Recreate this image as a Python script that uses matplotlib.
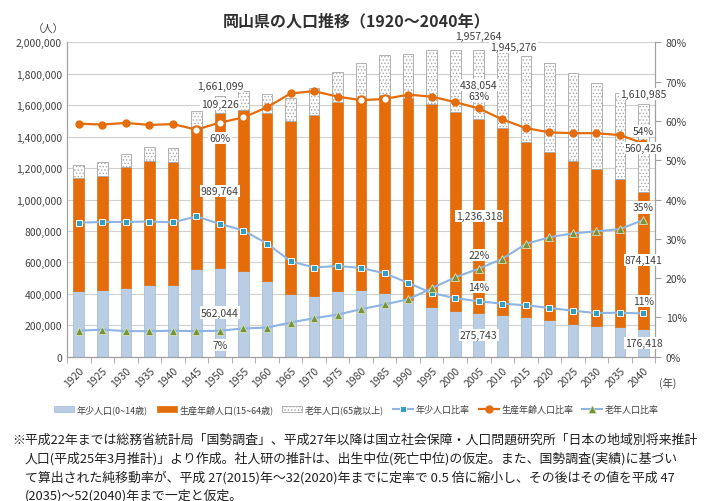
import numpy as np
import matplotlib
matplotlib.use("Agg")
import matplotlib.pyplot as plt
from matplotlib.ticker import FuncFormatter, MultipleLocator

plt.rcParams['font.family'] = ['Noto Sans CJK JP', 'DejaVu Sans']
plt.rcParams['hatch.linewidth'] = 0.6

years = [1920, 1925, 1930, 1935, 1940, 1945, 1950, 1955, 1960, 1965, 1970, 1975, 1980,
         1985, 1990, 1995, 2000, 2005, 2010, 2015, 2020, 2025, 2030, 2035, 2040]

# 人口 (人)
young = [415000, 425000, 440000, 459000, 454000, 558000, 562044, 543000, 482000, 400000,
         387000, 419000, 422000, 406000, 362000, 317000, 291000, 275743, 263000, 250000,
         231000, 211000, 193000, 187000, 176418]
working = [723000, 727000, 764000, 788000, 787000, 905000, 989764, 1026000, 1067000, 1102000,
           1152000, 1201000, 1222000, 1257000, 1284000, 1293000, 1268000, 1236318, 1190000, 1118000,
           1071000, 1036000, 1003000, 945000, 874141]
old = [80000, 86000, 83000, 86000, 88000, 102000, 109226, 121000, 124000, 143000,
       168000, 194000, 227000, 254000, 280000, 341000, 392000, 438054, 492000, 546000,
       565000, 561000, 547000, 545000, 560426]

# 比率 (%)
young_ratio = [34.1, 34.3, 34.3, 34.4, 34.2, 35.7, 33.8, 32.1, 28.8, 24.3, 22.7, 23.1, 22.6,
               21.2, 18.8, 16.2, 14.9, 14.1, 13.5, 13.1, 12.4, 11.7, 11.1, 11.2, 11.0]
working_ratio = [59.3, 59.1, 59.5, 59.0, 59.2, 57.8, 59.6, 60.9, 63.5, 67.0, 67.6, 66.2, 65.3,
                 65.6, 66.7, 66.2, 64.8, 63.2, 60.4, 58.2, 57.1, 56.9, 56.9, 56.4, 54.3]
old_ratio = [6.6, 6.9, 6.5, 6.5, 6.6, 6.5, 6.6, 7.2, 7.4, 8.7, 9.8, 10.7, 12.1,
             13.3, 14.6, 17.4, 20.2, 22.4, 24.9, 28.7, 30.4, 31.4, 31.9, 32.5, 34.8]
hollow_years = [1945, 1950, 1955, 1980, 1985]

# 2010 を先に描き、2005 を上に重ねる
totals_label = {1950: "1,661,099", 2010: "1,945,276", 2005: "1,957,264", 2040: "1,610,985"}

c_young = '#b9cde5'
c_work = '#e46c0a'
c_line = '#8eb4e3'
c_sq = '#31a0c0'
c_tri = '#77933c'

x = np.arange(len(years))
young = np.array(young)
working = np.array(working)
old = np.array(old)

fig = plt.figure(figsize=(7.13, 5.02), dpi=100)
ax = fig.add_axes([0.094, 0.2875, 0.825, 0.626])
ax2 = ax.twinx()

w = 0.45
ax.bar(x, young, w, color=c_young, edgecolor='#9fb6d4', lw=0.5, label='年少人口(0~14歳)', zorder=2)
ax.bar(x, working, w, bottom=young, color=c_work, edgecolor=c_work, lw=0.5,
       label='生産年齢人口(15~64歳)', zorder=2)
ax.bar(x, old, w, bottom=young + working, color='white', edgecolor='#a6a6a6', hatch='.....',
       lw=0.6, label='老年人口(65歳以上)', zorder=2)

ax.set_ylim(0, 2000000)
ax.set_xlim(-0.45, len(years) - 0.5)
ax.yaxis.set_major_locator(MultipleLocator(200000))
ax.yaxis.set_major_formatter(FuncFormatter(lambda v, p: f"{int(v):,}"))
ax.grid(axis='y', color='#d0d0d0', lw=0.8, zorder=0)
ax.set_axisbelow(True)
ax.set_xticks(x)
ax.set_xticklabels([str(y) for y in years], rotation=45, ha='right', rotation_mode='anchor',
                   fontsize=7.5, color='#404040')
ax.set_xticks(np.arange(-0.5, len(years), 1), minor=True)
ax.tick_params(axis='x', which='major', length=0, pad=6)
ax.tick_params(axis='x', which='minor', length=4, color='#a0a0a0')
ax.tick_params(axis='y', length=0, labelsize=7.5, labelcolor='#404040')
for a in (ax, ax2):
    a.spines['top'].set_visible(False)
    for s in ['left', 'bottom', 'right']:
        a.spines[s].set_color('#a0a0a0')

ax2.plot(x, young_ratio, color=c_line, lw=1.5, marker='s', ms=5, mfc=c_sq, mec='white',
         mew=0.7, label='年少人口比率', zorder=3)
ax2.plot(x, working_ratio, color=c_work, lw=1.6, marker='o', ms=5, mfc=c_work, mec=c_work,
         label='生産年齢人口比率', zorder=3)
hx = [years.index(y) for y in hollow_years]
ax2.plot(hx, [working_ratio[i] for i in hx], ls='none', marker='o', ms=6, mfc='white',
         mec=c_work, mew=1.5, zorder=4)
ax2.plot(x, old_ratio, color=c_line, lw=1.5, marker='^', ms=5.5, mfc=c_tri, mec='#d7e4bd',
         mew=0.6, label='老年人口比率', zorder=3)
ax2.set_ylim(0, 80)
ax2.yaxis.set_major_locator(MultipleLocator(10))
ax2.yaxis.set_major_formatter(FuncFormatter(lambda v, p: f"{int(v)}%"))
ax2.tick_params(axis='y', length=4, color='#a0a0a0', labelsize=7.5, labelcolor='#404040')

bb = dict(boxstyle='square,pad=0.1', fc='white', ec='none')
def lab(year, yval, text, dy, coords, dx=0):
    i = years.index(year)
    ax2.annotate(text, (i, yval), xycoords=coords, xytext=(dx, dy), textcoords='offset points',
                 ha='center', va='center', fontsize=7.5, color='#404040', bbox=bb, zorder=6,
                 annotation_clip=False)

for yr, t in totals_label.items():
    i = years.index(yr)
    tot = young[i] + working[i] + old[i]
    dy = {1950: 7, 2005: 10, 2010: 3, 2040: 7}[yr]
    dx = 8 if yr == 2010 else 0
    lab(yr, tot, t, dy, ax.transData, dx)
for yr in [1950, 2005, 2040]:
    i = years.index(yr)
    lab(yr, young[i] / 2, f"{young[i]:,}", 0, ax.transData)
    lab(yr, young[i] + working[i] / 2, f"{working[i]:,}", 0, ax.transData)
    lab(yr, young[i] + working[i] + old[i] / 2, f"{old[i]:,}", 0, ax.transData)
# 比率ラベル
lab(1950, working_ratio[6], "60%", -11, ax2.transData)
lab(1950, old_ratio[6], "7%", -10, ax2.transData)
lab(2005, working_ratio[17], "63%", 9, ax2.transData)
lab(2005, old_ratio[17], "22%", 10, ax2.transData)
lab(2005, young_ratio[17], "14%", 10, ax2.transData)
lab(2040, working_ratio[24], "54%", 9, ax2.transData)
lab(2040, old_ratio[24], "35%", 9, ax2.transData)
lab(2040, young_ratio[24], "11%", 9, ax2.transData)

h1, l1 = ax.get_legend_handles_labels()
h2, l2 = ax2.get_legend_handles_labels()
fig.legend(h1 + h2, l1 + l2, loc='center', bbox_to_anchor=(0.5, 0.183), ncol=6, frameon=False,
           fontsize=6.5, handlelength=2.2, handletextpad=0.3, columnspacing=1.0,
           labelcolor='#404040')

fig.text(0.5, 1 - 21 / 502, "岡山県の人口推移（1920～2040年）", ha='center', va='center',
         fontsize=11.5, fontweight='bold', color='#303030')
fig.text(48 / 713, 1 - 30 / 502, "（人）", ha='center', va='center', fontsize=7.5, color='#404040')
fig.text(668 / 713, 1 - 383 / 502, "(年)", ha='center', va='center', fontsize=7.5, color='#404040')

notes = [
    "※平成22年までは総務省統計局「国勢調査」、平成27年以降は国立社会保障・人口問題研究所「日本の地域別将来推計",
    "人口(平成25年3月推計)」より作成。社人研の推計は、出生中位(死亡中位)の仮定。また、国勢調査(実績)に基づい",
    "て算出された純移動率が、平成 27(2015)年～32(2020)年までに定率で 0.5 倍に縮小し、その後はその値を平成 47",
    "(2035)～52(2040)年まで一定と仮定。",
]
for k, t in enumerate(notes):
    fig.text((12 if k == 0 else 25) / 713, 1 - (440 + 18.7 * k) / 502, t, ha='left', va='center',
             fontsize=9.3, color='#202020')

fig.savefig('out.png', dpi=100)
